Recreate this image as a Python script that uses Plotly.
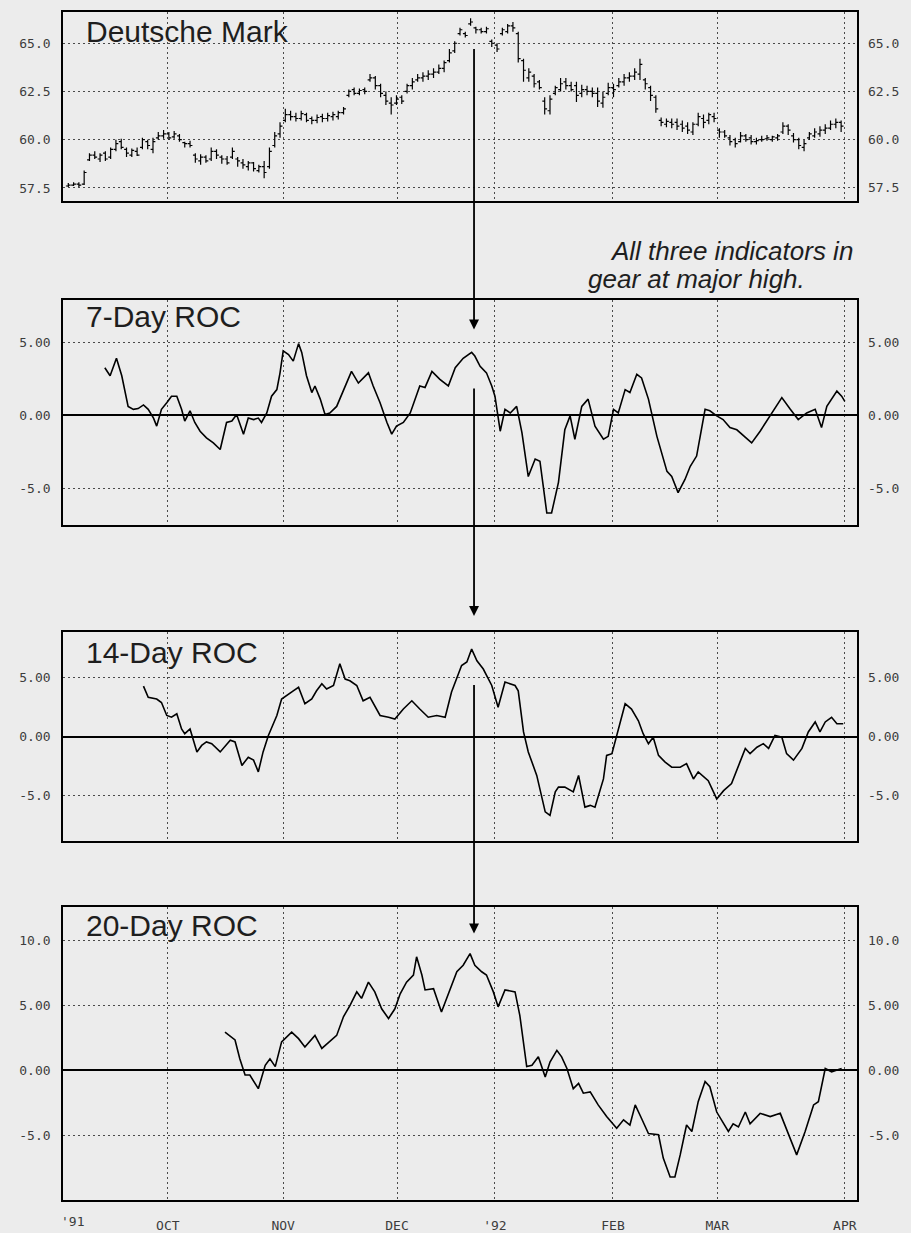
import plotly.graph_objects as go

# ======================
# DATA
# ======================
# x is a trading-day index; month boundaries sit at these positions
month_ticks = [19.8, 41.6, 63.1, 81.6, 103.9, 123.6, 147.7]
month_labels = ["OCT", "NOV", "DEC", "'92", "FEB", "MAR", "APR"]
start_tick = 1.7
start_label = "'91"

bar_day = list(range(1, 148))
dm_high = [57.75, 57.8, 57.8, 58.4, 59.3, 59.4, 59.3, 59.4, 59.6, 60.0,
           60.05, 59.6, 59.55, 59.6, 60.1, 60.0, 60.1, 60.4, 60.5, 60.4,
           60.45, 60.3, 59.9, 59.95, 59.3, 59.25, 59.2, 59.6, 59.5, 59.2,
           59.15, 59.6, 59.1, 59.0, 58.9, 58.85, 58.7, 58.9, 59.6, 60.4,
           60.9, 61.6, 61.5, 61.4, 61.5, 61.4, 61.2, 61.3, 61.35, 61.4,
           61.45, 61.5, 61.7, 62.6, 62.7, 62.65, 62.7, 63.4, 63.3, 62.9,
           62.5, 62.2, 62.3, 62.3, 62.9, 63.2, 63.4, 63.5, 63.6, 63.7,
           63.9, 64.1, 64.7, 65.1, 65.8, 65.6, 66.3, 65.85, 65.8, 65.85,
           65.2, 65.0, 65.8, 66.0, 66.1, 65.6, 64.2, 63.7, 63.4, 63.1,
           62.2, 62.3, 62.8, 63.2, 63.2, 63.0, 63.0, 62.85, 62.8, 62.7,
           62.7, 62.5, 62.95, 62.9, 63.2, 63.4, 63.5, 63.7, 64.2, 63.2,
           62.8, 62.3, 61.15, 61.1, 61.1, 61.1, 61.0, 60.9, 60.9, 61.4,
           61.3, 61.4, 61.4, 60.6, 60.5, 60.25, 60.1, 60.4, 60.3, 60.25,
           60.1, 60.2, 60.25, 60.2, 60.3, 60.9, 60.8, 60.35, 60.1, 60.0,
           60.4, 60.6, 60.7, 60.8, 61.0, 61.1, 61.0]
dm_low = [57.55, 57.6, 57.55, 57.65, 58.9, 59.0, 58.85, 58.9, 59.0, 59.4,
          59.5, 59.1, 59.1, 59.15, 59.5, 59.5, 59.3, 60.0, 60.05, 60.0,
          60.05, 59.9, 59.6, 59.6, 58.8, 58.7, 58.8, 58.9, 59.0, 58.75,
          58.7, 59.0, 58.6, 58.5, 58.4, 58.35, 58.3, 58.0, 58.5, 59.6,
          60.1, 60.9, 61.0, 60.95, 61.0, 60.9, 60.8, 60.85, 60.9, 60.95,
          61.0, 61.05, 61.3, 62.2, 62.3, 62.3, 62.35, 63.0, 62.6, 62.2,
          61.8, 61.3, 61.8, 61.85, 62.4, 62.6, 63.0, 63.0, 63.1, 63.2,
          63.4, 63.5, 64.0, 64.5, 65.4, 65.3, 65.9, 65.5, 65.5, 65.5,
          64.8, 64.55, 65.4, 65.5, 65.6, 64.0, 63.0, 63.0, 62.7, 62.6,
          61.3, 61.3, 62.3, 62.5, 62.6, 62.5, 61.95, 62.2, 62.3, 62.2,
          61.7, 61.65, 62.3, 62.2, 62.7, 62.8, 63.0, 63.1, 63.1, 62.6,
          62.0, 61.4, 60.7, 60.65, 60.6, 60.5, 60.4, 60.3, 60.25, 60.7,
          60.6, 60.8, 60.9, 60.1, 60.1, 59.7, 59.6, 59.85, 59.9, 59.75,
          59.75, 59.9, 59.95, 59.9, 59.95, 60.3, 60.25, 59.85, 59.5, 59.4,
          60.0, 60.1, 60.15, 60.3, 60.5, 60.6, 60.4]
dm_open = [57.6, 57.65, 57.7, 57.7, 58.95, 59.2, 59.0, 59.3, 59.1, 59.5,
           59.9, 59.5, 59.2, 59.4, 59.6, 59.9, 59.5, 60.1, 60.2, 60.3,
           60.15, 60.2, 59.85, 59.8, 59.2, 58.9, 59.1, 59.0, 59.4, 59.1,
           59.0, 59.1, 59.0, 58.8, 58.6, 58.8, 58.4, 58.6, 58.6, 59.7,
           60.3, 61.0, 61.3, 61.2, 61.1, 61.3, 61.1, 61.0, 61.2, 61.1,
           61.2, 61.2, 61.4, 62.3, 62.6, 62.4, 62.6, 63.1, 63.2, 62.8,
           62.3, 61.9, 61.9, 62.2, 62.5, 62.8, 63.1, 63.2, 63.3, 63.4,
           63.5, 63.7, 64.1, 64.6, 65.5, 65.5, 66.0, 65.8, 65.7, 65.6,
           65.1, 64.9, 65.5, 65.6, 65.9, 65.5, 64.1, 63.2, 63.3, 63.0,
           62.0, 61.5, 62.4, 62.6, 63.0, 62.8, 62.8, 62.4, 62.6, 62.5,
           62.4, 61.9, 62.4, 62.7, 62.8, 63.0, 63.2, 63.3, 63.4, 63.1,
           62.7, 62.2, 61.0, 60.8, 60.9, 60.9, 60.8, 60.7, 60.4, 60.8,
           61.1, 61.0, 61.2, 60.5, 60.4, 60.1, 60.0, 59.9, 60.2, 60.1,
           59.9, 60.0, 60.05, 60.0, 60.1, 60.4, 60.7, 60.2, 60.0, 59.6,
           60.1, 60.2, 60.3, 60.5, 60.6, 60.8, 60.9]
dm_close = [57.65, 57.7, 57.65, 58.3, 59.2, 59.1, 59.2, 59.0, 59.5, 59.8,
            59.6, 59.3, 59.45, 59.2, 60.0, 59.7, 59.9, 60.2, 60.3, 60.1,
            60.3, 60.0, 59.8, 59.7, 59.0, 59.1, 58.9, 59.4, 59.2, 59.0,
            58.8, 59.4, 58.9, 58.7, 58.8, 58.5, 58.6, 58.3, 59.4, 60.2,
            60.7, 61.3, 61.2, 61.1, 61.35, 61.0, 61.0, 61.15, 61.1, 61.25,
            61.3, 61.4, 61.6, 62.5, 62.4, 62.55, 62.5, 63.2, 62.8, 62.4,
            62.0, 61.8, 62.1, 62.0, 62.8, 63.0, 63.2, 63.3, 63.4, 63.5,
            63.7, 64.0, 64.5, 65.0, 65.7, 65.4, 66.1, 65.7, 65.6, 65.75,
            65.0, 64.7, 65.7, 65.9, 65.8, 64.2, 63.6, 63.5, 62.9, 62.7,
            61.6, 62.1, 62.7, 62.9, 62.8, 62.6, 62.3, 62.6, 62.5, 62.4,
            62.0, 62.2, 62.7, 62.6, 63.0, 63.2, 63.3, 63.5, 63.9, 62.9,
            62.3, 61.6, 60.9, 60.95, 60.8, 60.7, 60.6, 60.5, 60.8, 61.2,
            60.9, 61.3, 61.1, 60.4, 60.2, 59.9, 59.8, 60.2, 60.0, 59.9,
            59.95, 60.0, 60.1, 60.15, 60.2, 60.7, 60.5, 60.0, 59.7, 59.8,
            60.3, 60.4, 60.5, 60.6, 60.8, 60.9, 60.7]

roc7_day = [7.9, 8.9, 10.1, 11.1, 12.3, 13.3, 14.2, 15.2, 16.1, 17.1,
            17.7, 18.6, 19.6, 20.5, 21.5, 22.4, 23.0, 24.0, 24.9, 25.9,
            27.1, 28.4, 29.7, 30.9, 31.9, 32.8, 34.1, 35.0, 36.0, 36.9,
            37.5, 38.5, 39.4, 40.4, 41.0, 41.6, 42.6, 43.5, 44.5, 45.1,
            46.0, 47.0, 47.6, 48.6, 49.5, 50.4, 51.7, 53.0, 54.5, 55.8,
            56.7, 57.7, 58.6, 59.9, 61.2, 62.1, 63.0, 64.3, 65.6, 67.4,
            68.4, 69.7, 71.2, 72.8, 74.1, 75.6, 77.2, 77.8, 78.8, 80.0,
            81.0, 81.6, 82.6, 83.5, 84.5, 85.7, 86.7, 87.9, 89.2, 90.1,
            91.4, 92.3, 93.6, 94.8, 95.8, 96.7, 98.0, 99.2, 100.5, 102.1,
            103.0, 104.0, 104.9, 106.2, 107.1, 108.4, 109.3, 110.6, 112.2, 114.1,
            115.0, 116.2, 117.5, 118.5, 119.7, 121.3, 122.2, 123.5, 124.7, 126.0,
            127.3, 130.1, 131.7, 133.6, 135.8, 137.4, 138.9, 140.5, 142.1, 143.3,
            144.3, 146.2, 147.1, 147.7]
roc7 = [3.25, 2.7, 3.9, 2.7, 0.6, 0.4, 0.45, 0.7, 0.4, -0.2,
        -0.75, 0.4, 0.85, 1.3, 1.3, 0.4, -0.4, 0.3, -0.5, -1.1,
        -1.55, -1.9, -2.35, -0.5, -0.4, 0.05, -1.3, -0.2, -0.3, -0.2,
        -0.5, 0.15, 1.3, 1.75, 2.9, 4.4, 4.15, 3.7, 4.9, 4.3,
        2.7, 1.55, 2.0, 1.1, 0.05, 0.15, 0.6, 1.75, 3.0, 2.2,
        2.55, 2.9, 2.0, 0.85, -0.5, -1.3, -0.75, -0.5, 0.15, 2.0,
        1.9, 3.0, 2.45, 2.0, 3.25, 3.9, 4.3, 4.05, 3.35, 2.9,
        2.0, 1.3, -1.1, 0.4, 0.15, 0.6, -1.2, -4.2, -3.0, -3.15,
        -6.7, -6.7, -4.6, -1.0, -0.05, -1.65, 0.6, 1.1, -0.75, -1.65,
        -1.45, 0.4, 0.15, 1.75, 1.55, 2.8, 2.55, 1.1, -1.45, -3.85,
        -4.2, -5.3, -4.4, -3.5, -2.8, 0.4, 0.3, -0.05, -0.3, -0.85,
        -1.0, -1.9, -1.1, -0.05, 1.2, 0.4, -0.3, 0.15, 0.4, -0.85,
        0.6, 1.65, 1.3, 0.95]

roc14_day = [15.2, 16.1, 17.7, 18.6, 19.6, 20.5, 21.5, 22.4, 23.0, 24.0,
             25.3, 26.2, 27.1, 28.1, 29.7, 31.6, 32.5, 33.8, 35.0, 36.0,
             36.9, 37.8, 38.8, 40.4, 41.3, 42.6, 43.5, 44.5, 45.7, 47.0,
             47.9, 48.9, 49.8, 51.1, 52.3, 53.3, 54.2, 55.5, 56.7, 58.0,
             59.9, 61.5, 62.7, 64.3, 65.9, 67.4, 69.0, 70.6, 72.2, 73.4,
             74.4, 75.3, 76.3, 77.2, 78.2, 79.4, 81.0, 82.2, 83.5, 85.4,
             86.0, 87.0, 87.9, 89.5, 91.1, 92.0, 93.0, 93.6, 94.8, 96.4,
             97.4, 98.6, 99.6, 100.5, 102.1, 102.7, 103.7, 104.6, 106.2, 107.4,
             108.7, 109.6, 110.6, 111.5, 112.5, 113.7, 115.0, 116.6, 117.8, 119.1,
             120.0, 121.9, 123.5, 124.8, 126.3, 127.9, 128.9, 129.8, 131.1, 132.3,
             133.3, 134.5, 135.8, 136.7, 138.0, 139.6, 140.8, 142.1, 143.0, 144.0,
             145.2, 146.2, 147.4]
roc14 = [4.3, 3.35, 3.2, 2.9, 1.8, 1.65, 1.95, 0.65, 0.25, 0.65,
         -1.3, -0.75, -0.45, -0.6, -1.3, -0.3, -0.45, -2.45, -1.75, -2.0,
         -3.0, -1.3, 0.1, 1.8, 3.2, 3.65, 3.9, 4.2, 2.8, 3.2,
         3.9, 4.5, 4.05, 4.35, 6.2, 4.9, 4.75, 4.35, 3.05, 3.35,
         1.8, 1.65, 1.5, 2.35, 3.05, 2.35, 1.65, 1.8, 1.65, 3.8,
         4.9, 6.05, 6.35, 7.45, 6.45, 5.75, 4.35, 2.5, 4.65, 4.35,
         3.9, 0.4, -1.3, -3.3, -6.4, -6.7, -4.7, -4.3, -4.3, -4.7,
         -3.3, -6.0, -5.85, -6.0, -3.6, -1.6, -1.45, 0.1, 2.8, 2.35,
         1.35, 0.25, -0.6, -0.05, -1.6, -2.15, -2.6, -2.6, -2.3, -3.6,
         -3.0, -3.75, -5.3, -4.6, -4.0, -2.15, -1.0, -1.45, -0.9, -0.6,
         -1.0, 0.1, -0.05, -1.45, -2.0, -1.0, 0.4, 1.25, 0.4, 1.25,
         1.65, 1.1, 1.1]

roc20_day = [30.6, 31.6, 32.5, 33.4, 34.4, 35.3, 36.9, 38.2, 39.1, 40.1,
             41.3, 43.2, 44.5, 45.7, 47.6, 48.9, 50.4, 51.7, 53.0, 54.2,
             55.5, 56.4, 57.7, 58.9, 60.2, 61.5, 62.7, 63.7, 64.9, 66.2,
             66.8, 67.8, 68.4, 70.0, 71.5, 73.1, 74.4, 75.6, 76.9, 77.8,
             79.1, 80.0, 81.3, 82.2, 83.5, 85.4, 86.3, 87.6, 88.6, 89.8,
             91.1, 92.0, 93.3, 94.2, 95.2, 96.4, 97.4, 98.3, 99.6, 101.1,
             102.7, 104.6, 105.9, 107.1, 108.1, 109.3, 110.6, 112.5, 113.4, 114.7,
             115.6, 116.6, 117.8, 118.8, 120.0, 121.3, 122.2, 123.5, 125.7, 126.6,
             127.6, 128.9, 129.8, 131.7, 133.6, 135.5, 138.6, 140.2, 141.8, 142.7,
             144.0, 145.2, 147.1]
roc20 = [2.95, 2.6, 2.35, 0.9, -0.35, -0.35, -1.4, 0.4, 0.9, 0.3,
         2.2, 2.95, 2.45, 1.8, 2.7, 1.7, 2.2, 2.7, 4.15, 5.0,
         6.05, 5.55, 6.8, 6.05, 4.75, 4.0, 4.75, 5.9, 6.8, 7.35,
         8.75, 7.35, 6.2, 6.3, 4.5, 6.3, 7.6, 8.1, 9.0, 8.1,
         7.6, 7.35, 6.05, 4.9, 6.2, 6.05, 4.25, 0.3, 0.4, 1.05,
         -0.5, 0.65, 1.55, 1.05, 0.15, -1.4, -1.0, -1.75, -1.65, -2.65,
         -3.55, -4.45, -3.8, -4.2, -2.65, -3.7, -4.85, -4.95, -6.75, -8.2,
         -8.2, -6.5, -4.2, -4.7, -2.4, -0.85, -1.25, -3.2, -4.7, -4.1,
         -4.35, -3.2, -4.1, -3.3, -3.55, -3.3, -6.5, -4.7, -2.65, -2.4,
         0.15, -0.1, 0.15]

# axis ticks per panel
price_ticks = [65.0, 62.5, 60.0, 57.5]
price_labels = ["65.0", "62.5", "60.0", "57.5"]
roc_ticks = [5, 0, -5]
roc_labels = ["5.00", "0.00", "-5.0"]
roc20_ticks = [10, 5, 0, -5]
roc20_labels = ["10.0", "5.00", "0.00", "-5.0"]
high_day = 77.65

# ======================
# LAYOUT HELPERS
# ======================
W, H = 911, 1233
BG = "#ececec"
TICKFONT = dict(family="DejaVu Sans Mono", size=13, color="#3c3c3c")
GRID = dict(showgrid=True, gridcolor="#4a4a4a", gridwidth=1.3, griddash="2px,3px")


def ypos(px):
    return 1 - px / H


x_dom = [63 / W, 857 / W]
panels = [  # (top px, bottom px, y range, ticks, labels)
    (12, 201, [56.84, 66.62], price_ticks, price_labels),
    (300, 526, [-7.53, 7.92], roc_ticks, roc_labels),
    (633.3, 842.7, [-8.91, 8.88], roc_ticks, roc_labels),
    (908.3, 1202.3, [-10.0, 12.6], roc20_ticks, roc20_labels),
]

fig = go.Figure()

# ======================
# TRACES
# ======================
fig.add_trace(go.Ohlc(
    x=bar_day, open=dm_open, high=dm_high, low=dm_low, close=dm_close,
    increasing_line_color="black", decreasing_line_color="black",
    line_width=1.2, tickwidth=0.45, xaxis="x", yaxis="y", hoverinfo="skip",
))
for i, (xs, ys) in enumerate([(roc7_day, roc7), (roc14_day, roc14), (roc20_day, roc20)]):
    fig.add_trace(go.Scatter(
        x=xs, y=ys, mode="lines", line=dict(color="black", width=1.6),
        xaxis=f"x{i + 2}", yaxis=f"y{i + 2}", hoverinfo="skip",
    ))

# ======================
# AXES
# ======================
layout = {}
annotations = []
for i, (top, bot, rng, tv, tt) in enumerate(panels):
    n = "" if i == 0 else str(i + 1)
    last = i == len(panels) - 1
    layout[f"xaxis{n}"] = dict(
        domain=x_dom, range=[0, 150], anchor=f"y{n}",
        tickvals=month_ticks, ticktext=month_labels, showticklabels=last,
        ticks="", tickfont=TICKFONT, ticklabelstandoff=12,
        showline=True, mirror=True, linecolor="black", linewidth=1.6,
        zeroline=False, rangeslider=dict(visible=False), **GRID,
    )
    layout[f"yaxis{n}"] = dict(
        domain=[ypos(bot), ypos(top)], range=rng, anchor=f"x{n}",
        tickvals=tv, ticktext=tt, ticks="", tickfont=TICKFONT,
        ticklabelstandoff=8, showline=True, mirror=True,
        linecolor="black", linewidth=1.6,
        zeroline=i > 0, zerolinecolor="black", zerolinewidth=2, **GRID,
    )
    # same labels repeated on the right-hand side
    for v, t in zip(tv, tt):
        annotations.append(dict(
            text=t, x=866 / W, y=v, xref="paper", yref=f"y{n}",
            xanchor="left", yanchor="middle", showarrow=False, font=TICKFONT,
        ))

# ======================
# TEXT + ARROWS
# ======================
titles = [("Deutsche Mark", 32), ("7-Day ROC", 317), ("14-Day ROC", 654), ("20-Day ROC", 927)]
for text, yc in titles:
    annotations.append(dict(
        text=text, x=84 / W, y=ypos(yc), xref="paper", yref="paper",
        xanchor="left", yanchor="middle", showarrow=False,
        font=dict(family="Liberation Sans", size=30, color="#1e1e1e"),
    ))

annotations.append(dict(
    text="<i>All three indicators in</i>", x=608 / W, y=ypos(251), xref="paper", yref="paper",
    xanchor="left", yanchor="middle", showarrow=False,
    font=dict(family="Liberation Sans", size=26, color="#1e1e1e"),
))
annotations.append(dict(
    text="<i>gear at major high.</i>", x=586 / W, y=ypos(279), xref="paper", yref="paper",
    xanchor="left", yanchor="middle", showarrow=False,
    font=dict(family="Liberation Sans", size=26, color="#1e1e1e"),
))

annotations.append(dict(
    text=start_label, x=start_tick, y=ypos(1223), xref="x4", yref="paper",
    xanchor="center", yanchor="middle", showarrow=False, font=TICKFONT,
))

for head, tail in [(330, 48), (617, 388), (935, 685)]:
    annotations.append(dict(
        text="", x=high_day, y=ypos(head), xref="x", yref="paper",
        ax=0, ay=-(head - tail), showarrow=True, arrowhead=2,
        arrowsize=1.1, arrowwidth=1.8, arrowcolor="black",
    ))

fig.update_layout(
    width=W, height=H, margin=dict(l=0, r=0, t=0, b=0),
    paper_bgcolor=BG, plot_bgcolor=BG, showlegend=False,
    annotations=annotations, **layout,
)

fig.write_html("out.html", config={"displayModeBar": False},
               post_script="document.body.style.margin='0';")
